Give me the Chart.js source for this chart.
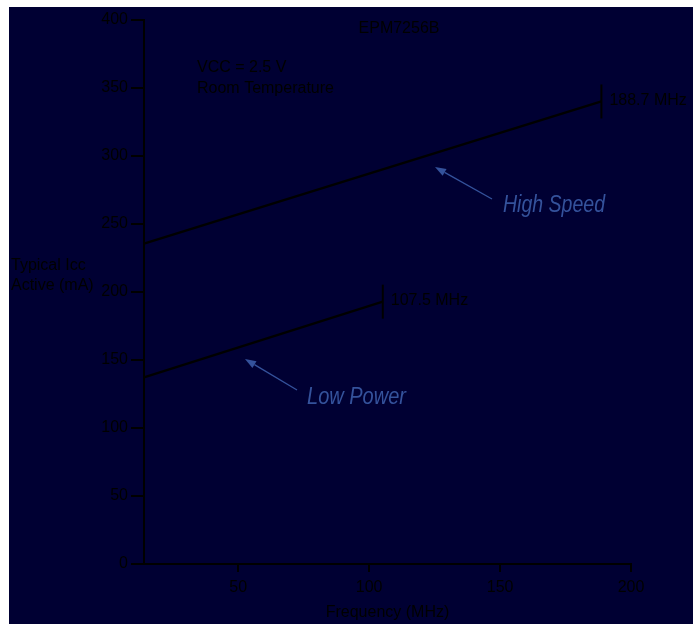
<!DOCTYPE html>
<html>
<head>
<meta charset="utf-8">
<script src="https://cdn.jsdelivr.net/npm/chart.js@4"></script>
<style>
  html, body { margin: 0; padding: 0; background: #ffffff; }
  canvas { display: block; }
</style>
</head>
<body>
<canvas id="c" width="693" height="624"></canvas>
<script>
// ---- data ----
const highSpeedFreq = [14, 188.7];
const highSpeedIcc  = [235.6, 340.1];
const lowPowerFreq  = [14, 105.2];
const lowPowerIcc   = [137.2, 192.9];
const seriesNames   = ['High Speed', 'Low Power'];
const endLabels     = ['188.7 MHz', '107.5 MHz'];
const xTickValues   = [50, 100, 150, 200];
const yTickValues   = [0, 50, 100, 150, 200, 250, 300, 350, 400];
const chartTitle    = 'EPM7256B';
const conditions    = ['VCC = 2.5 V', 'Room Temperature'];
const yTitleLines   = ['Typical Icc', 'Active (mA)'];
const xTitle        = 'Frequency (MHz)';

const NAVY = '#000033';
const BLUE = '#34529c';
const FONT = "'Liberation Sans', Arial, Helvetica, sans-serif";

function pts(xs, ys) { return xs.map((x, i) => ({ x: x, y: ys[i] })); }

const bgPlugin = {
  id: 'bg',
  beforeDraw(chart) {
    const ctx = chart.ctx;
    ctx.save();
    ctx.fillStyle = '#ffffff';
    ctx.fillRect(0, 0, chart.width, chart.height);
    ctx.fillStyle = NAVY;
    ctx.fillRect(9, 7, chart.width - 9, chart.height - 7);
    ctx.restore();
  }
};

function arrow(ctx, x1, y1, x2, y2) {
  const ang = Math.atan2(y2 - y1, x2 - x1);
  const hl = 11, hw = 4;
  const bx = x2 - hl * Math.cos(ang), by = y2 - hl * Math.sin(ang);
  ctx.beginPath();
  ctx.moveTo(x1, y1);
  ctx.lineTo(bx, by);
  ctx.stroke();
  ctx.beginPath();
  ctx.moveTo(x2, y2);
  ctx.lineTo(bx + hw * Math.sin(ang), by - hw * Math.cos(ang));
  ctx.lineTo(bx - hw * Math.sin(ang), by + hw * Math.cos(ang));
  ctx.closePath();
  ctx.fill();
}

const annoPlugin = {
  id: 'anno',
  afterDraw(chart) {
    const ctx = chart.ctx;
    ctx.save();
    ctx.strokeStyle = '#000';
    ctx.fillStyle = '#000';
    ctx.lineWidth = 2;
    ctx.font = '16px ' + FONT;
    ctx.textBaseline = 'middle';
    ctx.textAlign = 'left';
    [0, 1].forEach(i => {
      const meta = chart.getDatasetMeta(i);
      const p = meta.data[meta.data.length - 1];
      ctx.beginPath();
      ctx.moveTo(p.x, p.y - 17);
      ctx.lineTo(p.x, p.y + 17);
      ctx.stroke();
      ctx.fillText(endLabels[i], p.x + 8, p.y - 1);
    });
    ctx.textBaseline = 'alphabetic';
    ctx.textAlign = 'center';
    ctx.fillText(chartTitle, 399, 33);
    ctx.textAlign = 'left';
    ctx.fillText(conditions[0], 197, 72);
    ctx.fillText(conditions[1], 197, 93);
    ctx.fillText(yTitleLines[0], 11, 270);
    ctx.fillText(yTitleLines[1], 11, 290);
    ctx.fillStyle = BLUE;
    ctx.strokeStyle = BLUE;
    ctx.lineWidth = 1.3;
    ctx.font = 'italic 24px ' + FONT;
    const drawNarrow = (t, x, y, w) => {
      const m = ctx.measureText(t).width;
      ctx.save();
      ctx.translate(x, y);
      ctx.scale(w / m, 1);
      ctx.fillText(t, 0, 0);
      ctx.restore();
    };
    drawNarrow(seriesNames[0], 503, 212, 102);
    drawNarrow(seriesNames[1], 307, 404, 99);
    arrow(ctx, 492, 199, 435, 167);
    arrow(ctx, 297, 390, 245, 359);
    ctx.restore();
  }
};

new Chart(document.getElementById('c'), {
  type: 'line',
  data: {
    datasets: [
      { label: seriesNames[0], data: pts(highSpeedFreq, highSpeedIcc) },
      { label: seriesNames[1], data: pts(lowPowerFreq, lowPowerIcc) }
    ].map(d => Object.assign(d, {
      borderColor: '#000', borderWidth: 2.3, pointRadius: 0, fill: false, tension: 0, clip: false
    }))
  },
  options: {
    responsive: false,
    animation: false,
    devicePixelRatio: 1,
    layout: { padding: { left: 0, top: 20, right: 62, bottom: 0 } },
    plugins: { legend: { display: false }, tooltip: { enabled: false } },
    scales: {
      x: {
        type: 'linear', min: 14, max: 200,
        afterBuildTicks: s => { s.ticks = xTickValues.map(v => ({ value: v })); },
        afterFit: s => { s.height = 60; },
        border: { display: true, color: '#000', width: 2 },
        grid: { display: true, drawOnChartArea: false, drawTicks: true, tickLength: 8, color: '#000', lineWidth: 2 },
        ticks: { color: '#000', font: { family: FONT, size: 16 }, padding: 6, maxRotation: 0 },
        title: { display: true, text: xTitle, color: '#000', font: { family: FONT, size: 16 }, padding: { top: 0, bottom: 2 } }
      },
      y: {
        type: 'linear', min: 0, max: 400,
        afterBuildTicks: s => { s.ticks = yTickValues.map(v => ({ value: v })); },
        afterFit: s => { s.width = 144; },
        border: { display: true, color: '#000', width: 2 },
        grid: { display: true, drawOnChartArea: false, drawTicks: true, tickLength: 13, color: '#000', lineWidth: 2 },
        ticks: { color: '#000', font: { family: FONT, size: 16 }, padding: 3 }
      }
    }
  },
  plugins: [bgPlugin, annoPlugin]
});
</script>
</body>
</html>
